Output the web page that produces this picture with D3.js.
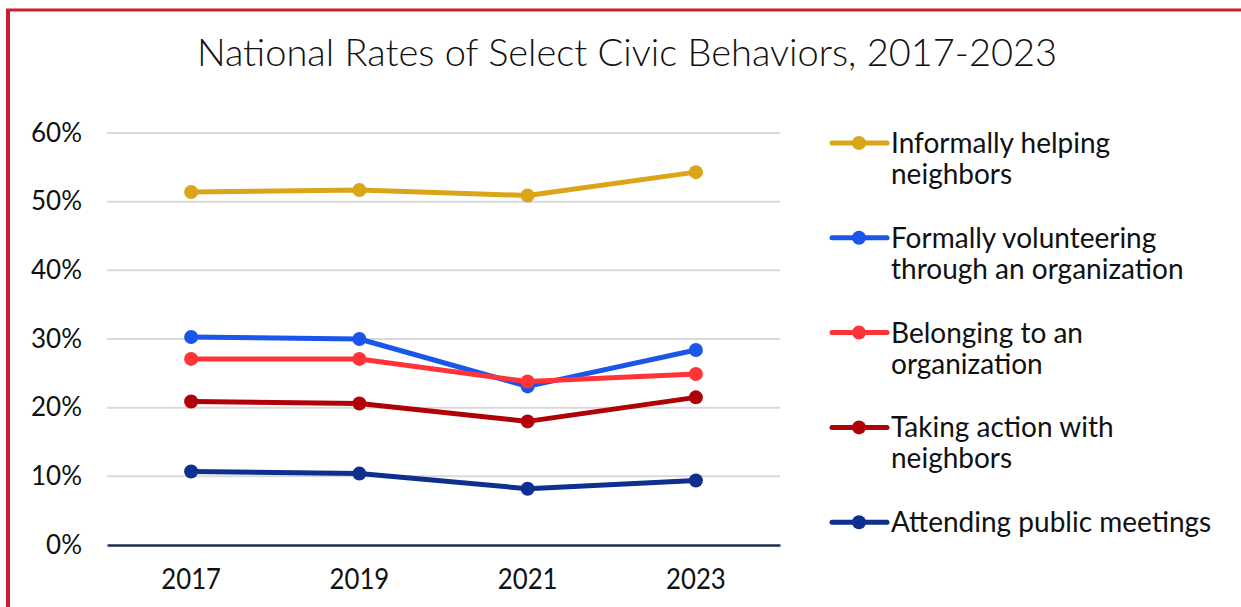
<!DOCTYPE html>
<html>
<head>
<meta charset="utf-8">
<script src="https://cdn.jsdelivr.net/npm/d3@7"></script>
<style>
  body { margin: 0; background: #fff; }
  svg { display: block; font-family: Lato, "Open Sans", sans-serif; }
</style>
</head>
<body>
<svg width="1241" height="607"></svg>
<script>
const years = ["2017", "2019", "2021", "2023"];
const yTicks = [0, 10, 20, 30, 40, 50, 60];

const seriesNames = [
    ["Informally helping", "neighbors"],
    ["Formally volunteering", "through an organization"],
    ["Belonging to an", "organization"],
    ["Taking action with", "neighbors"],
    ["Attending public meetings"]
];
const seriesColors = ["#DBA519", "#1A56EA", "#FF3338", "#B00008", "#0E2F8E"];

const helping = [51.4, 51.7, 50.9, 54.3];
const volunteering = [30.3, 30.0, 23.1, 28.4];
const belonging = [27.1, 27.1, 23.8, 24.9];
const takingAction = [20.9, 20.6, 18.0, 21.5];
const meetings = [10.7, 10.4, 8.2, 9.4];

const allValues = [helping, volunteering, belonging, takingAction, meetings];

document.addEventListener("DOMContentLoaded", function() {

    const svg = d3.select("svg");

    // red frame on left and top
    svg.append("line").attr("x1", 8).attr("x2", 8).attr("y1", 10).attr("y2", 607)
        .attr("stroke", "#C8202E").attr("stroke-width", 4);
    svg.append("line").attr("x1", 6).attr("x2", 1241).attr("y1", 10).attr("y2", 10)
        .attr("stroke", "#C8202E").attr("stroke-width", 3);

    svg.append("text")
        .attr("x", 627).attr("y", 66)
        .attr("text-anchor", "middle")
        .attr("font-size", 38)
        .attr("font-weight", 300)
        .attr("fill", "#111")
        .text("National Rates of Select Civic Behaviors, 2017-2023");

    const x = d3.scaleBand().domain(years).range([107, 780]);
    const y = d3.scaleLinear().domain([0, 60]).range([545, 133]);

    // gridlines
    svg.append("g")
        .selectAll("line")
        .data(yTicks.filter(d => d > 0))
        .enter()
        .append("line")
        .attr("x1", 107).attr("x2", 780)
        .attr("y1", d => y(d)).attr("y2", d => y(d))
        .attr("stroke", "#d9d9d9").attr("stroke-width", 2);

    // y axis labels
    const yAxis = svg.append("g")
        .attr("transform", "translate(82,0)")
        .call(d3.axisLeft(y).tickValues(yTicks).tickFormat(d => d + "%").tickSize(0).tickPadding(0));
    yAxis.select(".domain").remove();
    yAxis.selectAll("text").attr("font-size", 26).attr("font-family", "Lato, sans-serif").attr("fill", "#111");

    // x axis
    const xAxis = svg.append("g")
        .attr("transform", "translate(0,545)")
        .call(d3.axisBottom(x).tickSize(0).tickPadding(24));
    xAxis.select(".domain").attr("stroke", "#1F2D4E").attr("stroke-width", 2.5);
    xAxis.selectAll("text")
        .attr("font-size", 28)
        .attr("font-family", "Lato, sans-serif")
        .attr("fill", "#111")
        .attr("transform", "scale(0.92,1)");

    const line = d3.line()
        .x((d, i) => x(years[i]) + x.bandwidth() / 2)
        .y(d => y(d));

    allValues.forEach(function(vals, k) {
        const g = svg.append("g");
        g.append("path")
            .datum(vals)
            .attr("d", line)
            .attr("fill", "none")
            .attr("stroke", seriesColors[k])
            .attr("stroke-width", 5)
            .attr("stroke-linejoin", "round");
        g.selectAll("circle")
            .data(vals)
            .enter()
            .append("circle")
            .attr("cx", (d, i) => x(years[i]) + x.bandwidth() / 2)
            .attr("cy", d => y(d))
            .attr("r", 7)
            .attr("fill", seriesColors[k]);
    });

    // legend
    const legend = svg.append("g");
    seriesNames.forEach(function(lines, k) {
        const ly = 143 + k * 94.8;
        const item = legend.append("g").attr("transform", `translate(0,${ly})`);
        item.append("line")
            .attr("x1", 832).attr("x2", 887)
            .attr("stroke", seriesColors[k]).attr("stroke-width", 5).attr("stroke-linecap", "round");
        item.append("circle").attr("cx", 859).attr("r", 7).attr("fill", seriesColors[k]);
        const t = item.append("text")
            .attr("x", 891).attr("y", 10)
            .attr("font-size", 28)
            .attr("fill", "#111");
        lines.forEach(function(s, j) {
            t.append("tspan").attr("x", 891).attr("dy", j === 0 ? 0 : 31).text(s);
        });
    });
});
</script>
</body>
</html>
